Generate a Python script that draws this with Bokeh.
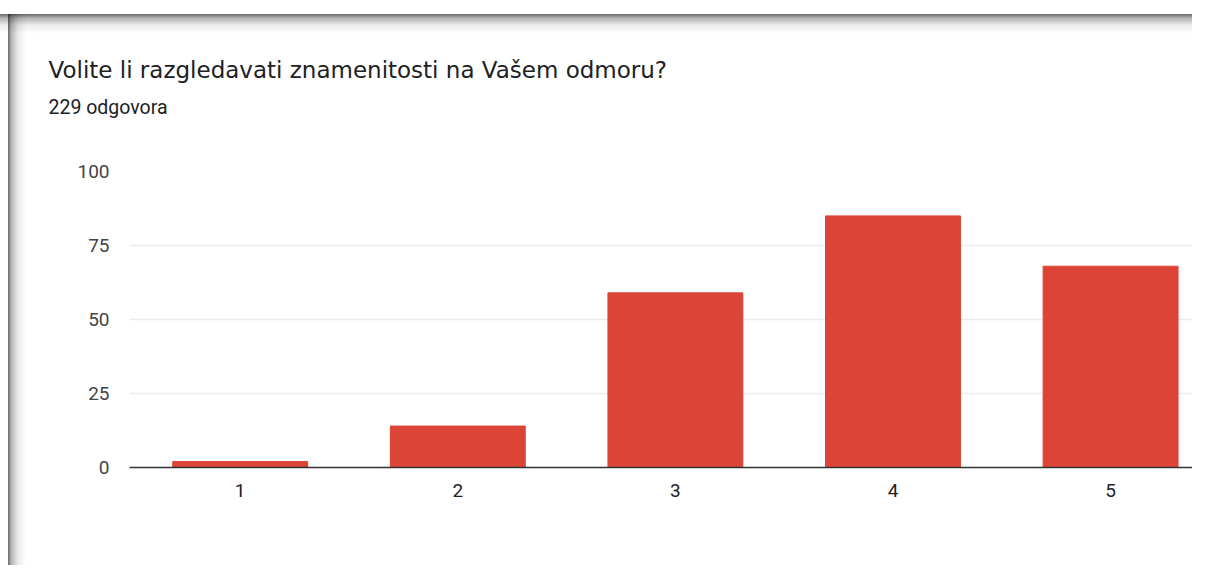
from bokeh.plotting import figure
from bokeh.models import Range1d, FixedTicker, Title
from bokeh.embed import file_html
from bokeh.resources import INLINE

categories = ["1", "2", "3", "4", "5"]
counts = [2, 14, 59, 85, 68]
y_ticks = [0, 25, 50, 75, 100]
title_text = "Volite li razgledavati znamenitosti na Vašem odmoru?"
subtitle_text = "229 odgovora"

xs = list(range(1, len(categories) + 1))

p = figure(width=1192, height=565, output_backend="svg", toolbar_location=None,
           x_range=Range1d(0.4913, 5.3764), y_range=Range1d(0, 100),
           min_border_left=129, min_border_right=0, min_border_top=171,
           min_border_bottom=98, border_fill_color=None,
           background_fill_color="white", outline_line_color=None)
p.styles = {
    "background": (
        "linear-gradient(to bottom, #ffffff 0px, #ffffff 14px, rgba(0,0,0,0.6) 14px, "
        "rgba(0,0,0,0.3) 18px, rgba(0,0,0,0.08) 25px, rgba(0,0,0,0) 34px), "
        "linear-gradient(to right, rgba(0,0,0,0) 0px, rgba(0,0,0,0) 8px, "
        "rgba(0,0,0,0.6) 8px, rgba(0,0,0,0.3) 11px, "
        "rgba(0,0,0,0.08) 18px, rgba(0,0,0,0) 26px), #ffffff"
    )
}

p.vbar(x=xs, top=counts, width=0.62, color="#db4437")

p.xgrid.grid_line_color = None
p.ygrid.grid_line_color = "#ebebeb"
p.ygrid.grid_line_width = 1.5

p.yaxis.ticker = FixedTicker(ticks=y_ticks)
p.yaxis.axis_line_color = None
p.yaxis.major_tick_line_color = None
p.yaxis.minor_tick_line_color = None
p.yaxis.major_label_standoff = 14
p.yaxis.major_label_text_font = "Roboto"
p.yaxis.major_label_text_font_size = "19px"
p.yaxis.major_label_text_color = "#444444"

p.xaxis.ticker = FixedTicker(ticks=xs)
p.xaxis.major_label_overrides = {x: c for x, c in zip(xs, categories)}
p.xaxis.axis_line_color = "#333333"
p.xaxis.axis_line_width = 1.5
p.xaxis.major_tick_line_color = None
p.xaxis.minor_tick_line_color = None
p.xaxis.major_label_standoff = 10
p.xaxis.major_label_text_font = "Roboto"
p.xaxis.major_label_text_font_size = "19px"
p.xaxis.major_label_text_color = "#222222"

# spacing between subtitle and plot area
spacer = Title(text=" ", standoff=50, text_font_size="1px")
p.add_layout(spacer, "above")
sub = Title(text=subtitle_text, align="left", offset=-81, standoff=0,
            text_font="Roboto", text_font_size="19.5px", text_font_style="normal",
            text_color="#202124")
p.add_layout(sub, "above")
main = Title(text=title_text, align="left", offset=-81, standoff=22,
             text_font="DejaVu Sans", text_font_size="23px", text_font_style="normal",
             text_color="#202124")
p.add_layout(main, "above")

open("out.html", "w").write(file_html(p, INLINE))
